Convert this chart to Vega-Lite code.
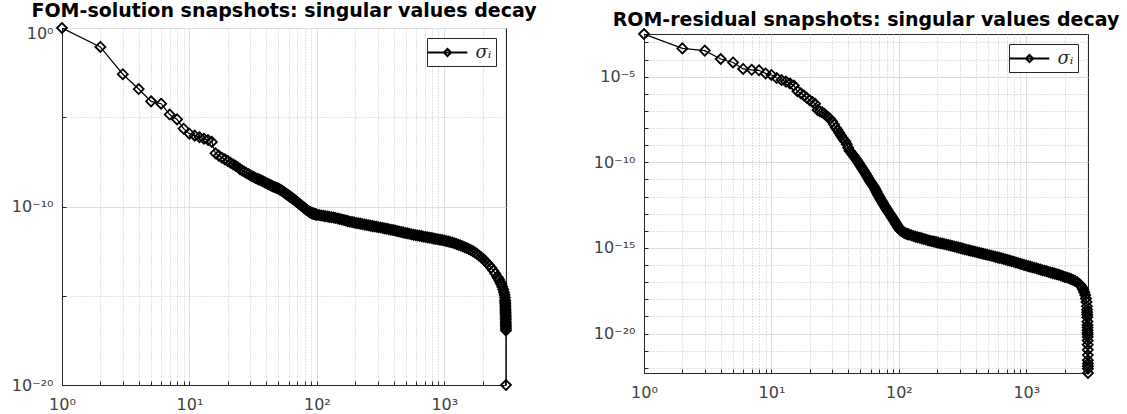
{
  "$schema": "https://vega.github.io/schema/vega-lite/v6.json",
  "background": "white",
  "padding": {"left": 10, "top": 0, "right": 0, "bottom": 0},
  "spacing": 54,
  "resolve": {"scale": {"color": "independent"}, "legend": {"color": "independent"}},
  "config": {
    "font": "DejaVu Sans",
    "view": {"stroke": "#262626", "strokeWidth": 1},
    "title": {"fontSize": 19, "fontWeight": "bold", "color": "#000000", "font": "DejaVu Sans", "frame": "group", "anchor": "middle", "baseline": "alphabetic"},
    "axis": {"title": null, "labelFont": "DejaVu Sans", "labelFontSize": 16, "labelColor": "#404040", "domainColor": "#262626", "tickColor": "#262626", "tickSize": -4, "labelOverlap": false, "labelFlush": false, "labelBound": false, "grid": true, "gridWidth": 1},
    "legend": {"orient": "top-right", "offset": 10, "padding": 4.5, "strokeColor": "#262626", "fillColor": "white", "cornerRadius": 0, "symbolType": "M-2.2,0H2.2M-0.4,0L0,-0.4L0.4,0L0,0.4Z", "symbolSize": 324, "symbolStrokeWidth": 2, "symbolOffset": 6, "labelFont": "DejaVu Serif", "labelFontStyle": "italic", "labelFontSize": 18, "labelColor": "#262626", "labelOffset": 18}
  },
  "datasets": {
    "fom": [
      {"i":1,"log10_sigma":0},{"i":2,"log10_sigma":-1.06},{"i":3,"log10_sigma":-2.59},{"i":4,"log10_sigma":-3.42},{"i":5,"log10_sigma":-4.11},{"i":6,"log10_sigma":-4.24},{"i":7,"log10_sigma":-4.85},{"i":8,"log10_sigma":-5.12},{"i":9,"log10_sigma":-5.64},{"i":10,"log10_sigma":-5.92},
      {"i":11,"log10_sigma":-6.03},{"i":12,"log10_sigma":-6.12},{"i":13,"log10_sigma":-6.2},{"i":14,"log10_sigma":-6.28},{"i":15,"log10_sigma":-6.38},{"i":16,"log10_sigma":-7.02},{"i":17,"log10_sigma":-7.15},{"i":18,"log10_sigma":-7.27},{"i":19,"log10_sigma":-7.36},{"i":20,"log10_sigma":-7.45},
      {"i":21,"log10_sigma":-7.55},{"i":22,"log10_sigma":-7.63},{"i":23,"log10_sigma":-7.72},{"i":24,"log10_sigma":-7.8},{"i":25,"log10_sigma":-7.92},{"i":26,"log10_sigma":-7.98},{"i":27,"log10_sigma":-8.05},{"i":28,"log10_sigma":-8.12},{"i":29,"log10_sigma":-8.18},{"i":30,"log10_sigma":-8.25},
      {"i":31,"log10_sigma":-8.3},{"i":32,"log10_sigma":-8.35},{"i":33,"log10_sigma":-8.4},{"i":34,"log10_sigma":-8.44},{"i":35,"log10_sigma":-8.48},{"i":36,"log10_sigma":-8.52},{"i":37,"log10_sigma":-8.56},{"i":38,"log10_sigma":-8.6},{"i":39,"log10_sigma":-8.64},{"i":40,"log10_sigma":-8.68},
      {"i":41,"log10_sigma":-8.72},{"i":42,"log10_sigma":-8.76},{"i":43,"log10_sigma":-8.79},{"i":44,"log10_sigma":-8.83},{"i":45,"log10_sigma":-8.86},{"i":46,"log10_sigma":-8.89},{"i":47,"log10_sigma":-8.92},{"i":48,"log10_sigma":-8.95},{"i":49,"log10_sigma":-8.98},{"i":50,"log10_sigma":-9.01},
      {"i":51,"log10_sigma":-9.04},{"i":52,"log10_sigma":-9.08},{"i":53,"log10_sigma":-9.11},{"i":54,"log10_sigma":-9.15},{"i":55,"log10_sigma":-9.19},{"i":56,"log10_sigma":-9.23},{"i":57,"log10_sigma":-9.27},{"i":58,"log10_sigma":-9.31},{"i":59,"log10_sigma":-9.35},{"i":60,"log10_sigma":-9.39},
      {"i":61,"log10_sigma":-9.42},{"i":62,"log10_sigma":-9.46},{"i":63,"log10_sigma":-9.5},{"i":64,"log10_sigma":-9.53},{"i":65,"log10_sigma":-9.57},{"i":66,"log10_sigma":-9.61},{"i":67,"log10_sigma":-9.64},{"i":68,"log10_sigma":-9.68},{"i":69,"log10_sigma":-9.72},{"i":70,"log10_sigma":-9.75},
      {"i":71,"log10_sigma":-9.79},{"i":72,"log10_sigma":-9.82},{"i":73,"log10_sigma":-9.86},{"i":74,"log10_sigma":-9.89},{"i":75,"log10_sigma":-9.93},{"i":76,"log10_sigma":-9.96},{"i":77,"log10_sigma":-9.99},{"i":78,"log10_sigma":-10.03},{"i":79,"log10_sigma":-10.06},{"i":80,"log10_sigma":-10.09},
      {"i":81,"log10_sigma":-10.12},{"i":82,"log10_sigma":-10.15},{"i":83,"log10_sigma":-10.18},{"i":84,"log10_sigma":-10.21},{"i":85,"log10_sigma":-10.24},{"i":86,"log10_sigma":-10.26},{"i":87,"log10_sigma":-10.29},{"i":88,"log10_sigma":-10.31},{"i":89,"log10_sigma":-10.33},{"i":90,"log10_sigma":-10.35},
      {"i":91,"log10_sigma":-10.37},{"i":92,"log10_sigma":-10.38},{"i":93,"log10_sigma":-10.39},{"i":94,"log10_sigma":-10.4},{"i":95,"log10_sigma":-10.41},{"i":96,"log10_sigma":-10.42},{"i":97,"log10_sigma":-10.43},{"i":98,"log10_sigma":-10.44},{"i":99,"log10_sigma":-10.45},{"i":100,"log10_sigma":-10.46},
      {"i":104,"log10_sigma":-10.48},{"i":108,"log10_sigma":-10.5},{"i":112,"log10_sigma":-10.52},{"i":116,"log10_sigma":-10.54},{"i":121,"log10_sigma":-10.56},{"i":125,"log10_sigma":-10.58},{"i":130,"log10_sigma":-10.6},{"i":135,"log10_sigma":-10.62},{"i":140,"log10_sigma":-10.64},{"i":146,"log10_sigma":-10.67},
      {"i":151,"log10_sigma":-10.7},{"i":157,"log10_sigma":-10.73},{"i":163,"log10_sigma":-10.76},{"i":169,"log10_sigma":-10.79},{"i":175,"log10_sigma":-10.82},{"i":182,"log10_sigma":-10.85},{"i":189,"log10_sigma":-10.87},{"i":196,"log10_sigma":-10.89},{"i":203,"log10_sigma":-10.92},{"i":211,"log10_sigma":-10.94},
      {"i":219,"log10_sigma":-10.96},{"i":227,"log10_sigma":-10.98},{"i":236,"log10_sigma":-11.01},{"i":245,"log10_sigma":-11.03},{"i":254,"log10_sigma":-11.05},{"i":263,"log10_sigma":-11.08},{"i":273,"log10_sigma":-11.1},{"i":284,"log10_sigma":-11.12},{"i":294,"log10_sigma":-11.14},{"i":305,"log10_sigma":-11.16},
      {"i":317,"log10_sigma":-11.18},{"i":329,"log10_sigma":-11.21},{"i":341,"log10_sigma":-11.23},{"i":354,"log10_sigma":-11.25},{"i":367,"log10_sigma":-11.27},{"i":381,"log10_sigma":-11.3},{"i":396,"log10_sigma":-11.32},{"i":411,"log10_sigma":-11.35},{"i":426,"log10_sigma":-11.37},{"i":442,"log10_sigma":-11.4},
      {"i":459,"log10_sigma":-11.43},{"i":476,"log10_sigma":-11.45},{"i":494,"log10_sigma":-11.48},{"i":513,"log10_sigma":-11.5},{"i":532,"log10_sigma":-11.53},{"i":552,"log10_sigma":-11.55},{"i":573,"log10_sigma":-11.58},{"i":595,"log10_sigma":-11.6},{"i":617,"log10_sigma":-11.62},{"i":640,"log10_sigma":-11.64},
      {"i":664,"log10_sigma":-11.66},{"i":689,"log10_sigma":-11.69},{"i":715,"log10_sigma":-11.71},{"i":742,"log10_sigma":-11.73},{"i":770,"log10_sigma":-11.75},{"i":799,"log10_sigma":-11.77},{"i":829,"log10_sigma":-11.8},{"i":860,"log10_sigma":-11.82},{"i":893,"log10_sigma":-11.84},{"i":926,"log10_sigma":-11.86},
      {"i":961,"log10_sigma":-11.88},{"i":997,"log10_sigma":-11.9},{"i":1035,"log10_sigma":-11.93},{"i":1074,"log10_sigma":-11.96},{"i":1114,"log10_sigma":-11.99},{"i":1156,"log10_sigma":-12.02},{"i":1200,"log10_sigma":-12.06},{"i":1245,"log10_sigma":-12.1},{"i":1292,"log10_sigma":-12.14},{"i":1340,"log10_sigma":-12.19},
      {"i":1391,"log10_sigma":-12.23},{"i":1443,"log10_sigma":-12.28},{"i":1497,"log10_sigma":-12.33},{"i":1554,"log10_sigma":-12.38},{"i":1612,"log10_sigma":-12.44},{"i":1673,"log10_sigma":-12.5},{"i":1736,"log10_sigma":-12.57},{"i":1801,"log10_sigma":-12.65},{"i":1869,"log10_sigma":-12.74},{"i":1939,"log10_sigma":-12.83},
      {"i":2012,"log10_sigma":-12.93},{"i":2088,"log10_sigma":-13.04},{"i":2167,"log10_sigma":-13.16},{"i":2248,"log10_sigma":-13.29},{"i":2333,"log10_sigma":-13.43},{"i":2421,"log10_sigma":-13.59},{"i":2512,"log10_sigma":-13.76},{"i":2606,"log10_sigma":-13.93},{"i":2650,"log10_sigma":-14.02},{"i":2700,"log10_sigma":-14.12},
      {"i":2750,"log10_sigma":-14.24},{"i":2800,"log10_sigma":-14.36},{"i":2850,"log10_sigma":-14.5},{"i":2900,"log10_sigma":-14.65},{"i":2940,"log10_sigma":-14.8},{"i":2970,"log10_sigma":-14.95},{"i":2990,"log10_sigma":-15.1},{"i":3000,"log10_sigma":-15.25},{"i":3005,"log10_sigma":-15.35},{"i":3010,"log10_sigma":-15.45},
      {"i":3014,"log10_sigma":-15.55},{"i":3018,"log10_sigma":-15.65},{"i":3021,"log10_sigma":-15.75},{"i":3024,"log10_sigma":-15.85},{"i":3027,"log10_sigma":-15.95},{"i":3030,"log10_sigma":-16.05},{"i":3032,"log10_sigma":-16.15},{"i":3034,"log10_sigma":-16.25},{"i":3036,"log10_sigma":-16.35},{"i":3038,"log10_sigma":-16.45},
      {"i":3040,"log10_sigma":-16.55},{"i":3042,"log10_sigma":-16.65},{"i":3044,"log10_sigma":-16.75},{"i":3046,"log10_sigma":-16.85},{"i":3048,"log10_sigma":-16.95},{"i":3050,"log10_sigma":-20}
    ],
    "rom": [
      {"i":1,"log10_sigma":-2.51},{"i":2,"log10_sigma":-3.35},{"i":3,"log10_sigma":-3.48},{"i":4,"log10_sigma":-3.97},{"i":5,"log10_sigma":-4.17},{"i":6,"log10_sigma":-4.55},{"i":7,"log10_sigma":-4.6},{"i":8,"log10_sigma":-4.63},{"i":9,"log10_sigma":-4.81},{"i":10,"log10_sigma":-4.9},
      {"i":11,"log10_sigma":-5.08},{"i":12,"log10_sigma":-5.2},{"i":13,"log10_sigma":-5.29},{"i":14,"log10_sigma":-5.4},{"i":15,"log10_sigma":-5.52},{"i":16,"log10_sigma":-5.85},{"i":17,"log10_sigma":-5.97},{"i":18,"log10_sigma":-6.1},{"i":19,"log10_sigma":-6.25},{"i":20,"log10_sigma":-6.38},
      {"i":21,"log10_sigma":-6.48},{"i":22,"log10_sigma":-6.58},{"i":23,"log10_sigma":-6.95},{"i":24,"log10_sigma":-7.02},{"i":25,"log10_sigma":-7.08},{"i":26,"log10_sigma":-7.16},{"i":27,"log10_sigma":-7.28},{"i":28,"log10_sigma":-7.38},{"i":29,"log10_sigma":-7.47},{"i":30,"log10_sigma":-7.62},
      {"i":31,"log10_sigma":-7.8},{"i":32,"log10_sigma":-7.98},{"i":33,"log10_sigma":-8.12},{"i":34,"log10_sigma":-8.27},{"i":35,"log10_sigma":-8.42},{"i":36,"log10_sigma":-8.56},{"i":37,"log10_sigma":-8.68},{"i":38,"log10_sigma":-8.79},{"i":39,"log10_sigma":-8.95},{"i":40,"log10_sigma":-9.15},
      {"i":41,"log10_sigma":-9.32},{"i":42,"log10_sigma":-9.42},{"i":43,"log10_sigma":-9.52},{"i":44,"log10_sigma":-9.61},{"i":45,"log10_sigma":-9.7},{"i":46,"log10_sigma":-9.8},{"i":47,"log10_sigma":-9.9},{"i":48,"log10_sigma":-10},{"i":49,"log10_sigma":-10.1},{"i":50,"log10_sigma":-10.2},
      {"i":51,"log10_sigma":-10.31},{"i":52,"log10_sigma":-10.4},{"i":53,"log10_sigma":-10.5},{"i":54,"log10_sigma":-10.59},{"i":55,"log10_sigma":-10.68},{"i":56,"log10_sigma":-10.78},{"i":57,"log10_sigma":-10.88},{"i":58,"log10_sigma":-10.98},{"i":59,"log10_sigma":-11.07},{"i":60,"log10_sigma":-11.15},
      {"i":61,"log10_sigma":-11.23},{"i":62,"log10_sigma":-11.31},{"i":63,"log10_sigma":-11.39},{"i":64,"log10_sigma":-11.46},{"i":65,"log10_sigma":-11.55},{"i":66,"log10_sigma":-11.64},{"i":67,"log10_sigma":-11.74},{"i":68,"log10_sigma":-11.83},{"i":69,"log10_sigma":-11.92},{"i":70,"log10_sigma":-12},
      {"i":71,"log10_sigma":-12.08},{"i":72,"log10_sigma":-12.16},{"i":73,"log10_sigma":-12.24},{"i":74,"log10_sigma":-12.31},{"i":75,"log10_sigma":-12.38},{"i":76,"log10_sigma":-12.45},{"i":77,"log10_sigma":-12.52},{"i":78,"log10_sigma":-12.59},{"i":79,"log10_sigma":-12.65},{"i":80,"log10_sigma":-12.72},
      {"i":81,"log10_sigma":-12.78},{"i":82,"log10_sigma":-12.84},{"i":83,"log10_sigma":-12.9},{"i":84,"log10_sigma":-12.96},{"i":85,"log10_sigma":-13.02},{"i":86,"log10_sigma":-13.08},{"i":87,"log10_sigma":-13.14},{"i":88,"log10_sigma":-13.19},{"i":89,"log10_sigma":-13.25},{"i":90,"log10_sigma":-13.3},
      {"i":91,"log10_sigma":-13.36},{"i":92,"log10_sigma":-13.41},{"i":93,"log10_sigma":-13.47},{"i":94,"log10_sigma":-13.52},{"i":95,"log10_sigma":-13.58},{"i":96,"log10_sigma":-13.63},{"i":97,"log10_sigma":-13.69},{"i":98,"log10_sigma":-13.74},{"i":99,"log10_sigma":-13.8},{"i":100,"log10_sigma":-13.85},
      {"i":101,"log10_sigma":-13.89},{"i":102,"log10_sigma":-13.93},{"i":103,"log10_sigma":-13.96},{"i":104,"log10_sigma":-13.98},{"i":105,"log10_sigma":-14},{"i":106,"log10_sigma":-14.02},{"i":107,"log10_sigma":-14.04},{"i":108,"log10_sigma":-14.06},{"i":109,"log10_sigma":-14.08},{"i":110,"log10_sigma":-14.1},
      {"i":112,"log10_sigma":-14.14},{"i":114,"log10_sigma":-14.16},{"i":116,"log10_sigma":-14.18},{"i":118,"log10_sigma":-14.2},{"i":120,"log10_sigma":-14.22},{"i":125,"log10_sigma":-14.26},{"i":130,"log10_sigma":-14.3},{"i":135,"log10_sigma":-14.34},{"i":140,"log10_sigma":-14.37},{"i":146,"log10_sigma":-14.41},
      {"i":151,"log10_sigma":-14.44},{"i":157,"log10_sigma":-14.48},{"i":163,"log10_sigma":-14.51},{"i":169,"log10_sigma":-14.55},{"i":175,"log10_sigma":-14.58},{"i":182,"log10_sigma":-14.61},{"i":189,"log10_sigma":-14.63},{"i":196,"log10_sigma":-14.66},{"i":203,"log10_sigma":-14.69},{"i":211,"log10_sigma":-14.72},
      {"i":219,"log10_sigma":-14.74},{"i":227,"log10_sigma":-14.77},{"i":236,"log10_sigma":-14.8},{"i":245,"log10_sigma":-14.83},{"i":254,"log10_sigma":-14.86},{"i":263,"log10_sigma":-14.89},{"i":273,"log10_sigma":-14.92},{"i":284,"log10_sigma":-14.95},{"i":294,"log10_sigma":-14.98},{"i":305,"log10_sigma":-15.01},
      {"i":317,"log10_sigma":-15.04},{"i":329,"log10_sigma":-15.07},{"i":341,"log10_sigma":-15.1},{"i":354,"log10_sigma":-15.13},{"i":367,"log10_sigma":-15.16},{"i":381,"log10_sigma":-15.19},{"i":396,"log10_sigma":-15.22},{"i":411,"log10_sigma":-15.25},{"i":426,"log10_sigma":-15.28},{"i":442,"log10_sigma":-15.31},
      {"i":459,"log10_sigma":-15.34},{"i":476,"log10_sigma":-15.37},{"i":494,"log10_sigma":-15.4},{"i":513,"log10_sigma":-15.43},{"i":532,"log10_sigma":-15.46},{"i":552,"log10_sigma":-15.49},{"i":573,"log10_sigma":-15.52},{"i":595,"log10_sigma":-15.55},{"i":617,"log10_sigma":-15.58},{"i":640,"log10_sigma":-15.6},
      {"i":664,"log10_sigma":-15.64},{"i":689,"log10_sigma":-15.67},{"i":715,"log10_sigma":-15.71},{"i":742,"log10_sigma":-15.74},{"i":770,"log10_sigma":-15.78},{"i":799,"log10_sigma":-15.81},{"i":829,"log10_sigma":-15.85},{"i":860,"log10_sigma":-15.88},{"i":893,"log10_sigma":-15.92},{"i":926,"log10_sigma":-15.95},
      {"i":961,"log10_sigma":-15.99},{"i":997,"log10_sigma":-16.02},{"i":1035,"log10_sigma":-16.06},{"i":1074,"log10_sigma":-16.09},{"i":1114,"log10_sigma":-16.13},{"i":1156,"log10_sigma":-16.16},{"i":1200,"log10_sigma":-16.19},{"i":1245,"log10_sigma":-16.23},{"i":1292,"log10_sigma":-16.26},{"i":1340,"log10_sigma":-16.3},
      {"i":1391,"log10_sigma":-16.33},{"i":1443,"log10_sigma":-16.36},{"i":1497,"log10_sigma":-16.4},{"i":1554,"log10_sigma":-16.43},{"i":1612,"log10_sigma":-16.47},{"i":1673,"log10_sigma":-16.5},{"i":1736,"log10_sigma":-16.54},{"i":1801,"log10_sigma":-16.57},{"i":1869,"log10_sigma":-16.61},{"i":1939,"log10_sigma":-16.65},
      {"i":2012,"log10_sigma":-16.69},{"i":2088,"log10_sigma":-16.73},{"i":2167,"log10_sigma":-16.77},{"i":2248,"log10_sigma":-16.82},{"i":2333,"log10_sigma":-16.87},{"i":2421,"log10_sigma":-16.93},{"i":2512,"log10_sigma":-17},{"i":2606,"log10_sigma":-17.1},{"i":2650,"log10_sigma":-17.16},{"i":2700,"log10_sigma":-17.24},
      {"i":2750,"log10_sigma":-17.33},{"i":2800,"log10_sigma":-17.45},{"i":2850,"log10_sigma":-17.58},{"i":2900,"log10_sigma":-17.75},{"i":2940,"log10_sigma":-17.95},{"i":2970,"log10_sigma":-18.15},{"i":2990,"log10_sigma":-18.4},{"i":3000,"log10_sigma":-18.6},{"i":3005,"log10_sigma":-18.75},{"i":3010,"log10_sigma":-18.9},
      {"i":3014,"log10_sigma":-19.05},{"i":3018,"log10_sigma":-19.3},{"i":3021,"log10_sigma":-19.5},{"i":3024,"log10_sigma":-19.65},{"i":3027,"log10_sigma":-19.8},{"i":3029,"log10_sigma":-19.95},{"i":3031,"log10_sigma":-20.05},{"i":3033,"log10_sigma":-20.2},{"i":3035,"log10_sigma":-20.4},{"i":3037,"log10_sigma":-20.65},
      {"i":3039,"log10_sigma":-20.95},{"i":3041,"log10_sigma":-21.25},{"i":3043,"log10_sigma":-21.55},{"i":3045,"log10_sigma":-21.75},{"i":3047,"log10_sigma":-21.9},{"i":3049,"log10_sigma":-22.05},{"i":3050,"log10_sigma":-22.3}
    ]
  },
  "hconcat": [
    {
      "spacing": 0,
      "resolve": {"scale": {"color": "independent"}, "legend": {"color": "independent"}},
      "vconcat": [
        {"width": 1, "height": 1, "view": {"stroke": null}, "data": {"values": [{"a": 0}]}, "mark": {"type": "point", "size": 0, "opacity": 0}},
        {
          "width": 444, "height": 357,
          "title": {"text": "FOM-solution snapshots: singular values decay", "offset": -1.5},
          "data": {"name": "fom"},
          "encoding": {
            "x": {"field": "i", "type": "quantitative", "scale": {"type": "log", "domain": [1, 3050], "nice": false},
              "axis": {"values": [1,2,3,4,5,6,7,8,9,10,20,30,40,50,60,70,80,90,100,200,300,400,500,600,700,800,900,1000,2000,3000],
                "labelExpr": "datum.value == 1 ? '10⁰' : datum.value == 10 ? '10¹' : datum.value == 100 ? '10²' : datum.value == 1000 ? '10³' : ''",
                "gridColor": {"condition": {"test": "datum.value == 1 || datum.value == 10 || datum.value == 100 || datum.value == 1000", "value": "#dedede"}, "value": "#c2c2c2"},
                "gridDash": {"condition": {"test": "datum.value == 1 || datum.value == 10 || datum.value == 100 || datum.value == 1000", "value": []}, "value": [1, 2]},
                "labelPadding": 15}},
            "y": {"field": "log10_sigma", "type": "quantitative", "scale": {"domain": [-20, 0], "nice": false, "zero": false},
              "axis": {"values": [-20,-15,-10,-5,0],
                "labelExpr": "datum.value == 0 ? '10⁰' : datum.value == -10 ? '10⁻¹⁰' : datum.value == -20 ? '10⁻²⁰' : ''",
                "labelOffset": {"condition": {"test": "datum.value == 0", "value": 5}, "value": 0},
                "gridColor": {"condition": {"test": "datum.value % 10 == 0", "value": "#dedede"}, "value": "#c2c2c2"},
                "gridDash": {"condition": {"test": "datum.value % 10 == 0", "value": []}, "value": [1, 2]},
                "labelPadding": 13}}
          },
          "layer": [
            {"mark": {"type": "line", "strokeWidth": 1.2, "clip": true},
             "encoding": {"color": {"datum": "σᵢ", "type": "nominal", "scale": {"range": ["#000000"]}, "legend": {"title": null}}}},
            {"mark": {"type": "point", "shape": "diamond", "filled": false, "color": "#000000", "size": 100, "strokeWidth": 1.8, "opacity": 1}}
          ]
        }
      ]
    },
    {
      "spacing": 0,
      "resolve": {"scale": {"color": "independent"}, "legend": {"color": "independent"}},
      "vconcat": [
        {"width": 1, "height": 10, "view": {"stroke": null}, "data": {"values": [{"a": 0}]}, "mark": {"type": "point", "size": 0, "opacity": 0}},
        {
          "width": 444, "height": 339,
          "title": {"text": "ROM-residual snapshots: singular values decay", "offset": -4.2},
          "data": {"name": "rom"},
          "encoding": {
            "x": {"field": "i", "type": "quantitative", "scale": {"type": "log", "domain": [1, 3050], "nice": false},
              "axis": {"values": [1,2,3,4,5,6,7,8,9,10,20,30,40,50,60,70,80,90,100,200,300,400,500,600,700,800,900,1000,2000,3000],
                "labelExpr": "datum.value == 1 ? '10⁰' : datum.value == 10 ? '10¹' : datum.value == 100 ? '10²' : datum.value == 1000 ? '10³' : ''",
                "gridColor": {"condition": {"test": "datum.value == 1 || datum.value == 10 || datum.value == 100 || datum.value == 1000", "value": "#dedede"}, "value": "#c2c2c2"},
                "gridDash": {"condition": {"test": "datum.value == 1 || datum.value == 10 || datum.value == 100 || datum.value == 1000", "value": []}, "value": [1, 2]},
                "labelPadding": 15}},
            "y": {"field": "log10_sigma", "type": "quantitative", "scale": {"domain": [-22.3, -2.51], "nice": false, "zero": false},
              "axis": {"values": [-22,-21,-20,-19,-18,-17,-16,-15,-14,-13,-12,-11,-10,-9,-8,-7,-6,-5,-4,-3],
                "labelExpr": "datum.value == -5 ? '10⁻⁵' : datum.value == -10 ? '10⁻¹⁰' : datum.value == -15 ? '10⁻¹⁵' : datum.value == -20 ? '10⁻²⁰' : ''",
                "gridColor": {"condition": {"test": "datum.value % 5 == 0", "value": "#dedede"}, "value": "#c2c2c2"},
                "gridDash": {"condition": {"test": "datum.value % 5 == 0", "value": []}, "value": [1, 2]},
                "labelPadding": 13}}
          },
          "layer": [
            {"mark": {"type": "line", "strokeWidth": 1.2, "clip": true},
             "encoding": {"color": {"datum": "σᵢ", "type": "nominal", "scale": {"range": ["#000000"]}, "legend": {"title": null}}}},
            {"mark": {"type": "point", "shape": "diamond", "filled": false, "color": "#000000", "size": 100, "strokeWidth": 1.8, "opacity": 1}}
          ]
        }
      ]
    }
  ]
}
